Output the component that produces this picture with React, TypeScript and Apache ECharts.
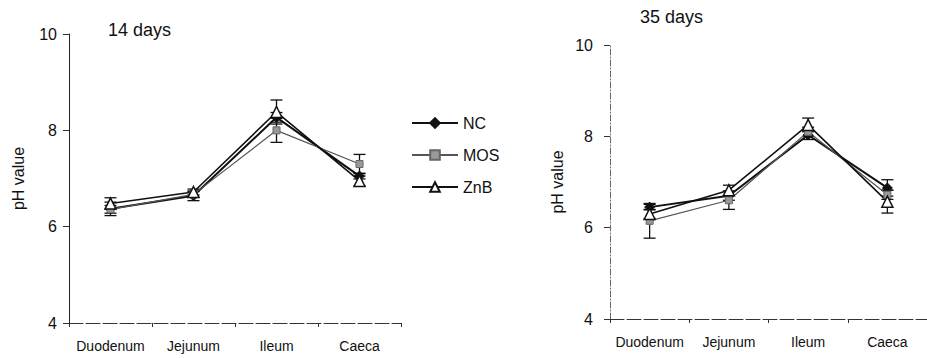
import React, { useEffect, useRef } from "react";
import * as echarts from "echarts";

const categories = ["Duodenum", "Jejunum", "Ileum", "Caeca"];
const seriesNames = ["NC", "MOS", "ZnB"];
const yTicks = [4, 6, 8, 10];

// 14 days
const nc14 = [6.37, 6.64, 8.27, 7.05];
const mos14 = [6.36, 6.67, 8.0, 7.3];
const znb14 = [6.48, 6.72, 8.38, 6.95];
const ncErr14 = [0.14, 0.1, 0.1, 0.06];
const mosErr14 = [0.08, 0.06, 0.25, 0.2];
const znbErr14 = [0.12, 0.06, 0.25, 0.1];

// 35 days
const nc35 = [6.45, 6.7, 8.03, 6.87];
const mos35 = [6.15, 6.6, 8.1, 6.72];
const znb35 = [6.3, 6.82, 8.25, 6.57];
const ncErr35 = [0.06, 0.1, 0.1, 0.18];
const mosErr35 = [0.38, 0.2, 0.1, 0.1];
const znbErr35 = [0.1, 0.11, 0.15, 0.25];

const FONT = "Liberation Sans";

const styles: Record<string, any> = {
  NC: {
    symbol: "diamond",
    symbolSize: 10,
    itemStyle: { color: "#111", borderColor: "#111", borderWidth: 1 },
    lineStyle: { color: "#111", width: 2 },
  },
  MOS: {
    symbol: "rect",
    symbolSize: 7,
    itemStyle: { color: "#999", borderColor: "#666", borderWidth: 1 },
    lineStyle: { color: "#555", width: 1.2 },
  },
  ZnB: {
    symbol: "triangle",
    symbolSize: 11,
    itemStyle: { color: "#fff", borderColor: "#111", borderWidth: 1.5 },
    lineStyle: { color: "#111", width: 1.6 },
  },
};

function errSeries(vals: number[], errs: number[], gi: number) {
  return {
    type: "custom",
    xAxisIndex: gi,
    yAxisIndex: gi,
    silent: true,
    z: 1,
    data: vals.map((v, i) => [i, v - errs[i], v + errs[i]]),
    renderItem: (params: any, api: any) => {
      const x = api.value(0);
      const lo = api.coord([x, api.value(1)]);
      const hi = api.coord([x, api.value(2)]);
      const w = 6;
      const st = { stroke: "#111", lineWidth: 1.3 };
      return {
        type: "group",
        children: [
          { type: "line", shape: { x1: lo[0], y1: lo[1], x2: hi[0], y2: hi[1] }, style: st },
          { type: "line", shape: { x1: lo[0] - w, y1: lo[1], x2: lo[0] + w, y2: lo[1] }, style: st },
          { type: "line", shape: { x1: hi[0] - w, y1: hi[1], x2: hi[0] + w, y2: hi[1] }, style: st },
        ],
      };
    },
  };
}

function lineSeries(name: string, data: number[], gi: number) {
  return {
    type: "line",
    name,
    xAxisIndex: gi,
    yAxisIndex: gi,
    data,
    z: 3,
    ...styles[name],
  };
}

function xAxis(gi: number) {
  return {
    type: "category",
    gridIndex: gi,
    data: categories,
    boundaryGap: true,
    axisLine: { lineStyle: { color: "#333", width: 1, type: [14, 3] } },
    axisTick: { show: true, length: 4, interval: 0, lineStyle: { color: "#333" } },
    axisLabel: { color: "#111", fontSize: 14, fontFamily: FONT, margin: 16, interval: 0, hideOverlap: false },
  };
}

function yAxis(gi: number, dashed: boolean, margin: number, nameGap: number) {
  return {
    type: "value",
    gridIndex: gi,
    min: 4,
    max: 10,
    interval: 2,
    name: "pH value",
    nameLocation: "middle",
    nameGap,
    nameTextStyle: { color: "#111", fontSize: 16, fontFamily: FONT },
    axisLine: {
      show: true,
      lineStyle: { color: dashed ? "#666" : "#222", width: 1, type: dashed ? [6, 2, 1, 2] : "solid" },
    },
    axisTick: { show: true, length: 6, lineStyle: { color: "#333" } },
    splitLine: { show: false },
    axisLabel: {
      color: "#111",
      fontSize: 16,
      fontFamily: FONT,
      margin,
      formatter: (v: number) => (yTicks.includes(v) ? String(v) : ""),
    },
  };
}

export default function App() {
  const ref = useRef<HTMLDivElement>(null);
  useEffect(() => {
    if (!ref.current) return;
    const chart = echarts.init(ref.current, undefined, { renderer: "svg" });
    chart.setOption({
      animation: false,
      backgroundColor: "#fff",
      textStyle: { fontFamily: FONT },
      title: [
        { text: "14 days", left: 103, top: 16, textStyle: { fontSize: 18, fontWeight: "normal", color: "#111", fontFamily: FONT } },
        { text: "35 days", left: 635, top: 3, textStyle: { fontSize: 18, fontWeight: "normal", color: "#111", fontFamily: FONT } },
      ],
      legend: {
        data: seriesNames,
        orient: "vertical",
        left: 411,
        top: 115,
        padding: 0,
        itemWidth: 46,
        itemHeight: 12,
        itemGap: 16,
        textStyle: { fontSize: 16, color: "#111", fontFamily: FONT },
      },
      grid: [
        { left: 69, top: 34, width: 332, height: 289 },
        { left: 610, top: 45, width: 321, height: 274 },
      ],
      xAxis: [xAxis(0), xAxis(1)],
      yAxis: [yAxis(0, false, 12, 43), yAxis(1, true, 17, 45)],
      series: [
        errSeries(nc14, ncErr14, 0),
        errSeries(mos14, mosErr14, 0),
        errSeries(znb14, znbErr14, 0),
        lineSeries("NC", nc14, 0),
        lineSeries("MOS", mos14, 0),
        lineSeries("ZnB", znb14, 0),
        errSeries(nc35, ncErr35, 1),
        errSeries(mos35, mosErr35, 1),
        errSeries(znb35, znbErr35, 1),
        lineSeries("NC", nc35, 1),
        lineSeries("MOS", mos35, 1),
        lineSeries("ZnB", znb35, 1),
      ],
    });
    return () => chart.dispose();
  }, []);
  return (
    <div
      ref={ref}
      style={{ position: "absolute", left: 0, top: 0, width: 927, height: 358 }}
    />
  );
}
